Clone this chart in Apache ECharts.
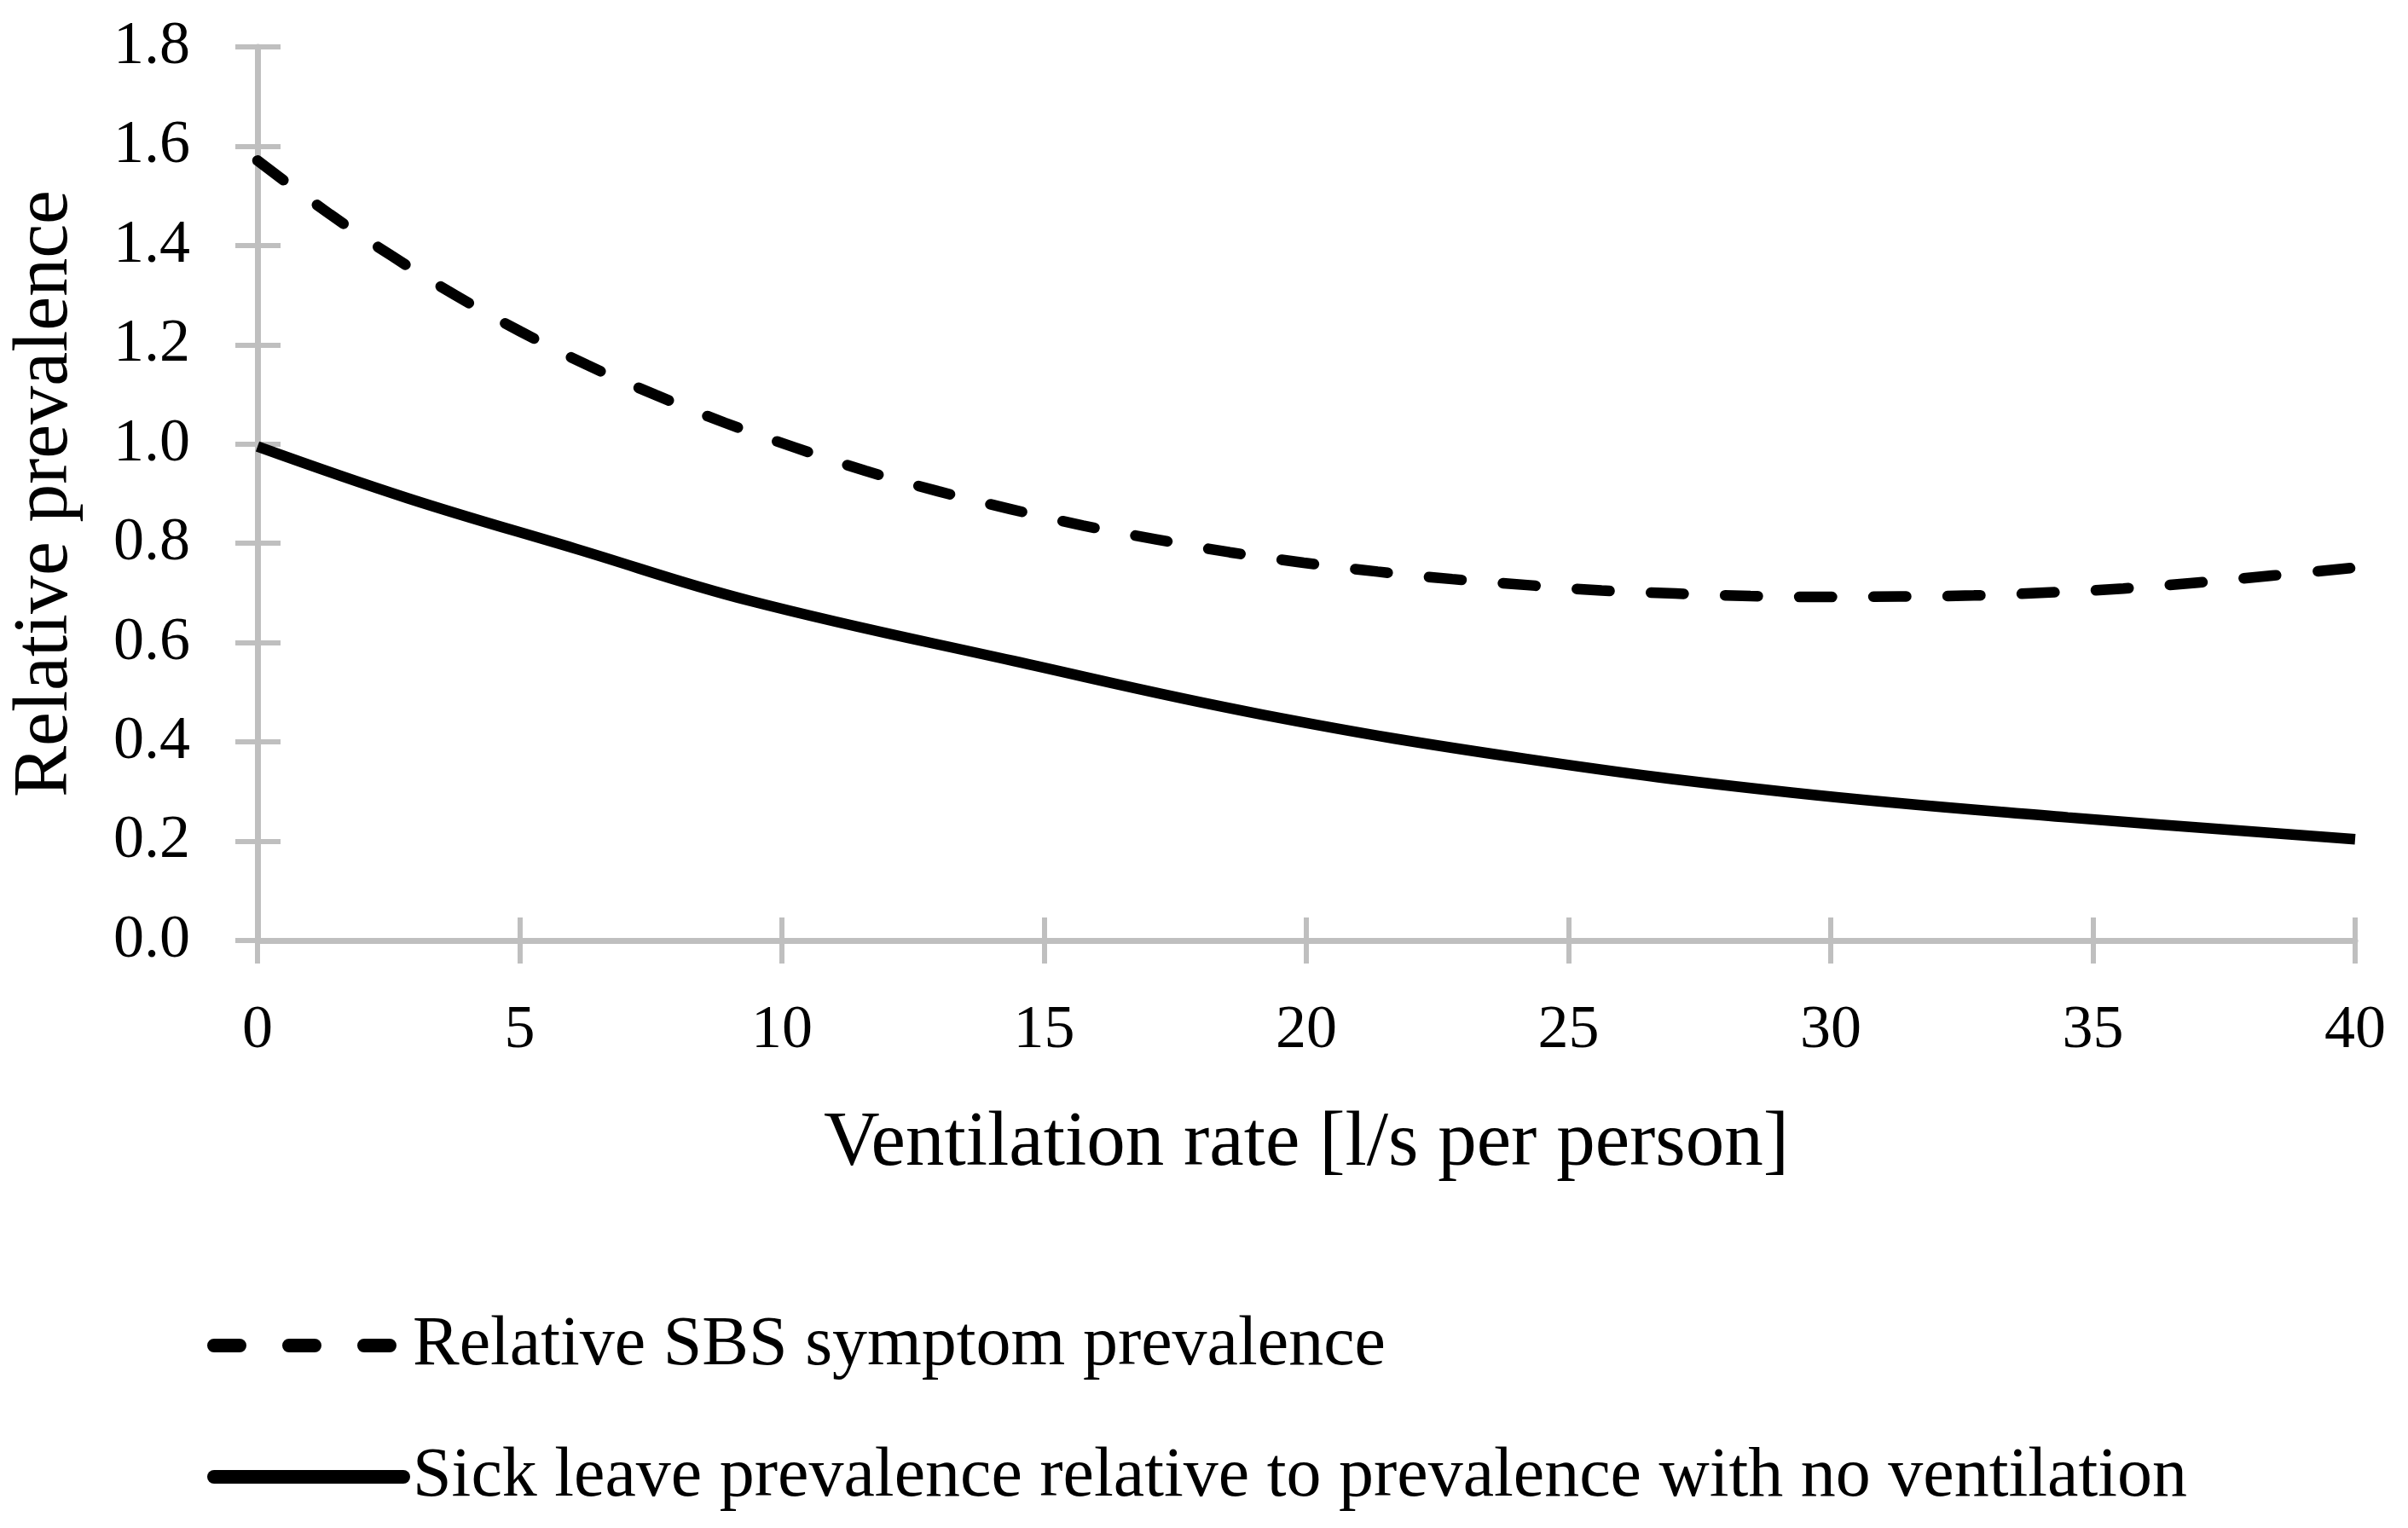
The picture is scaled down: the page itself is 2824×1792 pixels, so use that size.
<!DOCTYPE html>
<html>
<head>
<meta charset="utf-8">
<script src="https://cdn.jsdelivr.net/npm/echarts@6/dist/echarts.min.js"></script>
<style>
html,body{margin:0;padding:0;background:#fff;}
#chart{width:2824px;height:1792px;}
</style>
</head>
<body>
<div id="chart"></div>
<script>
// Values: [ventilation rate, relative prevalence]
var sbsSymptom = [
  [0, 1.571], [1.38, 1.463], [2.56, 1.379], [3.77, 1.300], [5.01, 1.227],
  [6.29, 1.159], [7.59, 1.099], [8.91, 1.043], [10.25, 0.993], [11.60, 0.946],
  [12.98, 0.905], [14.36, 0.869], [15.74, 0.836], [17.14, 0.808], [18.54, 0.782],
  [19.95, 0.761], [21.36, 0.743], [22.78, 0.728], [24.21, 0.716], [25.63, 0.705],
  [27.04, 0.699], [28.47, 0.694], [29.89, 0.692], [31.32, 0.693], [32.73, 0.695],
  [34.17, 0.701], [35.58, 0.709], [37.00, 0.721], [38.42, 0.735], [40, 0.751]
];
var sickLeave = [
  [0, 0.995], [2.86, 0.891], [6.07, 0.789], [9.40, 0.684], [14.42, 0.563],
  [19.16, 0.455], [24.18, 0.366], [29.25, 0.298], [34.52, 0.248], [40, 0.204]
];
var seriesNames = [
  'Relative SBS symptom prevalence',
  'Sick leave prevalence relative to prevalence with no ventilation'
];
var xTitle = 'Ventilation rate [l/s per person]';
var yTitle = 'Relative prevalence';
var xRange = {min: 0, max: 40, interval: 5};
var yRange = {min: 0, max: 1.8, interval: 0.2};

var FONT = 'Liberation Serif';
var GRAY = '#bfbfbf';

function mainX() {
  return {
    type: 'value', position: 'bottom', min: xRange.min, max: xRange.max, interval: xRange.interval,
    axisLine: {show: true, onZero: false, lineStyle: {color: GRAY, width: 7}},
    axisTick: {show: true, inside: false, length: 27, lineStyle: {color: GRAY, width: 6}},
    axisLabel: {show: true, margin: 70, color: '#000', fontFamily: FONT, fontSize: 72},
    splitLine: {show: false},
    name: xTitle, nameLocation: 'middle', nameGap: 194,
    nameTextStyle: {color: '#000', fontFamily: FONT, fontSize: 91}
  };
}
function innerX() {
  return {
    type: 'value', position: 'bottom', offset: 0, min: xRange.min, max: xRange.max, interval: xRange.interval,
    axisLine: {show: false},
    axisTick: {show: true, inside: true, length: 27, lineStyle: {color: GRAY, width: 6}},
    axisLabel: {show: false}, splitLine: {show: false}
  };
}
function mainY() {
  return {
    type: 'value', position: 'left', min: yRange.min, max: yRange.max, interval: yRange.interval,
    axisLine: {show: true, onZero: false, lineStyle: {color: GRAY, width: 7}},
    axisTick: {show: true, inside: false, length: 26, lineStyle: {color: GRAY, width: 6}},
    axisLabel: {show: true, margin: 79, color: '#000', fontFamily: FONT, fontSize: 72,
      formatter: function (v) { return v.toFixed(1); }},
    splitLine: {show: false},
    name: yTitle, nameLocation: 'middle', nameGap: 203, nameRotate: 90,
    nameTextStyle: {color: '#000', fontFamily: FONT, fontSize: 90}
  };
}
function innerY() {
  return {
    type: 'value', position: 'left', offset: 0, min: yRange.min, max: yRange.max, interval: yRange.interval,
    axisLine: {show: false},
    axisTick: {show: true, inside: true, length: 27, lineStyle: {color: GRAY, width: 6}},
    axisLabel: {show: false}, splitLine: {show: false}
  };
}

var chart = echarts.init(document.getElementById('chart'), null, {renderer: 'canvas'});
chart.setOption({
  backgroundColor: '#fff',
  animation: false,
  grid: {left: 302, right: 62, top: 55, bottom: 689, containLabel: false},
  xAxis: [mainX(), innerX()],
  yAxis: [mainY(), innerY()],
  legend: {
    orient: 'vertical', left: 238, top: 1532,
    itemWidth: 222, itemHeight: 16, itemGap: 72,
    itemStyle: {opacity: 0},
    textStyle: {color: '#000', fontFamily: FONT, fontSize: 82, lineHeight: 78, padding: [0, 0, 0, 6]},
    data: [
      {name: seriesNames[0], itemStyle: {opacity: 0},
        lineStyle: {width: 16, type: [30, 58], cap: 'round', color: '#000'}},
      {name: seriesNames[1], itemStyle: {opacity: 0},
        lineStyle: {width: 16, type: 'solid', cap: 'round', color: '#000'}}
    ]
  },
  series: [
    {
      name: seriesNames[0], type: 'line', data: sbsSymptom, xAxisIndex: 0, yAxisIndex: 0,
      smooth: 0.4, showSymbol: false, symbol: 'none',
      lineStyle: {color: '#000', width: 12.5, type: [38, 49], cap: 'round'},
      itemStyle: {color: '#000'}
    },
    {
      name: seriesNames[1], type: 'line', data: sickLeave, xAxisIndex: 0, yAxisIndex: 0,
      smooth: 0.4, showSymbol: false, symbol: 'none',
      lineStyle: {color: '#000', width: 12.5, type: 'solid'},
      itemStyle: {color: '#000'}
    }
  ]
});
</script>
</body>
</html>
